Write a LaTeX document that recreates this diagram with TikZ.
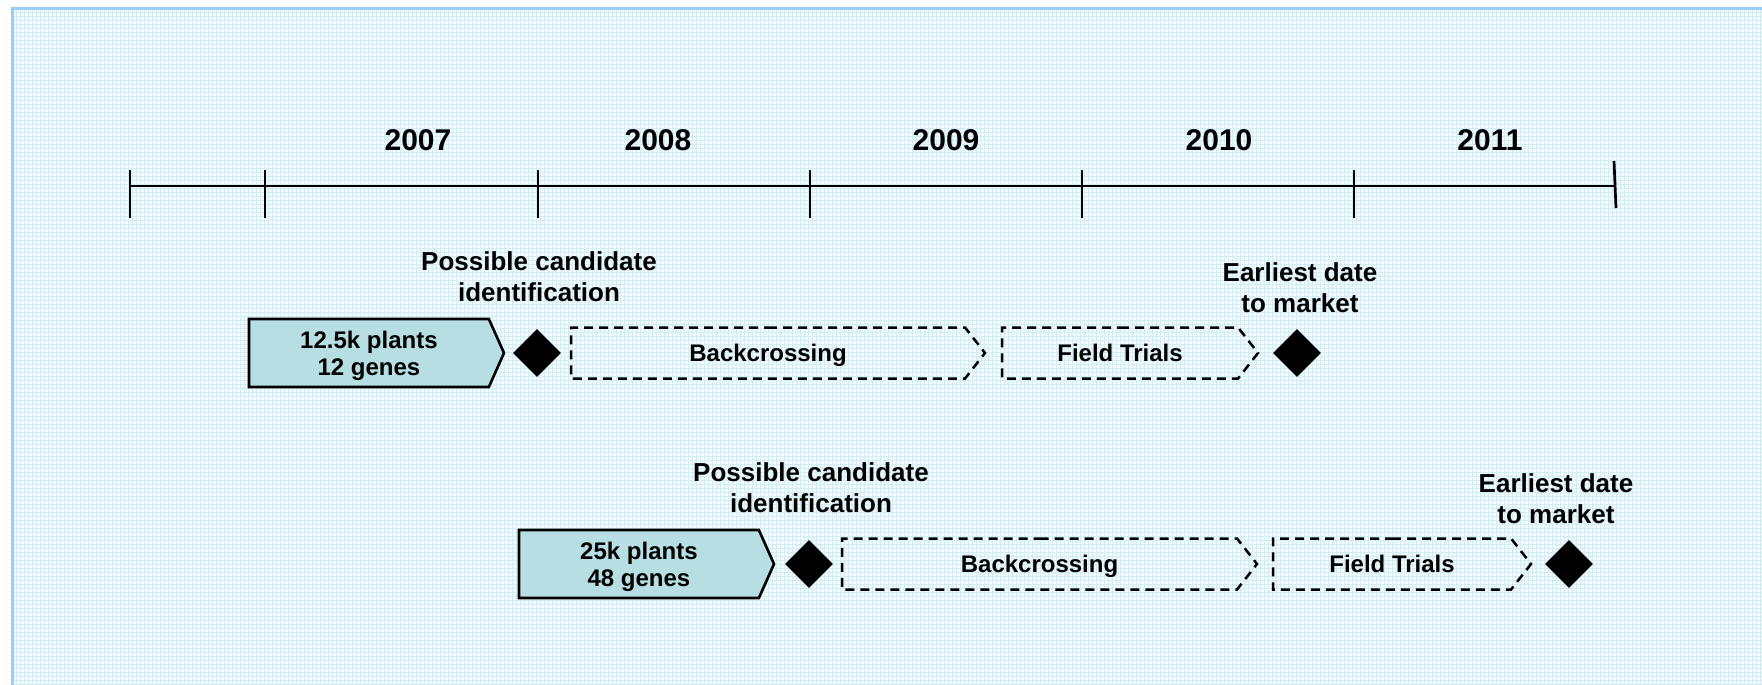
\documentclass[tikz,border=0pt]{standalone}
\usepackage{fontspec}
\setmainfont{Liberation Sans}
\usetikzlibrary{shapes.geometric,shapes.symbols}
\definecolor{ink}{RGB}{0,0,0}
\definecolor{gridbg}{RGB}{243,250,252}
\definecolor{gridline}{RGB}{212,236,242}
\definecolor{framebl}{RGB}{153,204,255}
\definecolor{stagefill}{RGB}{183,222,226}
\tikzset{
  stage/.style={
    shape=signal, signal to=east, signal pointer angle=132,
    draw=ink, line width=2.6pt, fill=stagefill,
    minimum width=255pt, minimum height=68pt, inner sep=0pt, outer sep=0pt,
    text depth=0pt, align=center, font=\fontsize{24}{27}\selectfont\bfseries,
  },
  trial/.style={
    shape=signal, signal to=east, signal pointer angle=104,
    draw=ink, line width=2.5pt, dash pattern=on 9pt off 6pt,
    minimum width=#1, minimum height=51pt, inner sep=0pt, outer sep=0pt,
    text depth=0pt, align=center, font=\fontsize{24}{27}\selectfont\bfseries,
  },
  milestone/.style={diamond, fill=ink, minimum width=48pt, minimum height=48pt, inner sep=0pt},
  note/.style={anchor=south, align=center, inner sep=0pt, font=\fontsize{26}{31}\selectfont\bfseries},
  year/.style={anchor=base, inner sep=0pt, font=\fontsize{30}{36}\selectfont\bfseries},
  axis/.style={line width=2.7pt, draw=ink},
}
\begin{document}
\begin{tikzpicture}[x=1pt,y=-1pt]
  \useasboundingbox (0,0) rectangle (1762,685);

  % grid paper background
  \fill[gridbg] (12,9) rectangle (1762,685);
  \draw[gridline, line width=0.6pt, step=4pt] (12,685) grid (1762,9);
  \draw[framebl, line width=3pt] (1762,9) -- (12,9) -- (12,685);

  % time axis
  \coordinate (ax0) at (130,186);
  \coordinate (ax1) at (1615,186);
  \draw[axis] (ax0) -- (ax1);
  \foreach \x in {130,265,538,810,1082,1354}
    \draw[axis] (\x,170) -- (\x,218);
  \draw[axis] (1614,161) -- (1616,208);

  \node[year] (y2007) at (418,150) {2007};
  \node[year] (y2008) at (658,150) {2008};
  \node[year] (y2009) at (946,150) {2009};
  \node[year] (y2010) at (1219,150) {2010};
  \node[year] (y2011) at (1490,150) {2011};

  % first scenario
  \node[stage, anchor=west] (r1scan) at (249,353) {12.5k plants\\12 genes};
  \node[milestone] (r1cand) at (537,353) {};
  \node[trial=414pt, anchor=west] (r1back) at (571,353) {Backcrossing};
  \node[trial=256pt, anchor=west] (r1field) at (1002,353) {Field Trials};
  \node[milestone] (r1mkt) at (1297,353) {};
  \node[note] (r1candlbl) at (539,302) {Possible candidate\\identification};
  \node[note] (r1mktlbl) at (1300,313) {Earliest date\\to market};

  % second scenario
  \node[stage, anchor=west] (r2scan) at (519,564) {25k plants\\48 genes};
  \node[milestone] (r2cand) at (809,564) {};
  \node[trial=415pt, anchor=west] (r2back) at (842,564) {Backcrossing};
  \node[trial=258pt, anchor=west] (r2field) at (1273,564) {Field Trials};
  \node[milestone] (r2mkt) at (1569,564) {};
  \node[note] (r2candlbl) at (811,513) {Possible candidate\\identification};
  \node[note] (r2mktlbl) at (1556,524) {Earliest date\\to market};
\end{tikzpicture}
\end{document}
